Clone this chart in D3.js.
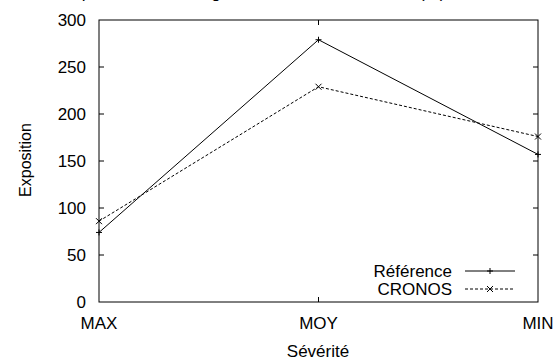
<!DOCTYPE html>
<html>
<head>
<meta charset="utf-8">
<script src="https://cdn.jsdelivr.net/npm/d3@7"></script>
<style>
  body { margin: 0; background: #fff; }
  text { font-family: "Liberation Sans", Arial, sans-serif; fill: #000; }
</style>
</head>
<body>
<svg width="556" height="360"></svg>
<script>
var categories = ["MAX", "MOY", "MIN"];
var reference = [74, 279, 157];
var cronos = [86, 229, 176];
var yTicks = [0, 50, 100, 150, 200, 250, 300];

var svg = d3.select("svg");
var plotLeft = 99, plotRight = 538, plotTop = 20, plotBottom = 302;

var x = d3.scalePoint().domain(categories).range([plotLeft, plotRight]);
var y = d3.scaleLinear().domain([0, 300]).range([plotBottom, plotTop]);

// title, mostly outside the picture
svg.append("text")
    .attr("x", 60).attr("y", -2)
    .style("font-size", "17px")
    .text("Répartition des catégories de sévérité cumulée (%)");

// frame
svg.append("rect")
    .attr("x", plotLeft).attr("y", plotTop)
    .attr("width", plotRight - plotLeft).attr("height", plotBottom - plotTop)
    .attr("fill", "none").attr("stroke", "#000").attr("stroke-width", 1);

var tk = 5;
yTicks.forEach(function (t) {
    if (t === 0 || t === 300) return;
    svg.append("line").attr("x1", plotLeft).attr("x2", plotLeft + tk)
        .attr("y1", y(t)).attr("y2", y(t)).attr("stroke", "#000");
    svg.append("line").attr("x1", plotRight).attr("x2", plotRight - tk)
        .attr("y1", y(t)).attr("y2", y(t)).attr("stroke", "#000");
});
yTicks.forEach(function (t) {
    svg.append("text")
        .attr("x", 86).attr("y", y(t) + 6)
        .attr("text-anchor", "end")
        .style("font-size", "17px")
        .text(t);
});

categories.forEach(function (c, i) {
    if (i > 0 && i < categories.length - 1) {
        svg.append("line").attr("x1", x(c)).attr("x2", x(c))
            .attr("y1", plotBottom).attr("y2", plotBottom - tk).attr("stroke", "#000");
        svg.append("line").attr("x1", x(c)).attr("x2", x(c))
            .attr("y1", plotTop).attr("y2", plotTop + tk).attr("stroke", "#000");
    }
    svg.append("text")
        .attr("x", x(c)).attr("y", 329)
        .attr("text-anchor", "middle")
        .style("font-size", "17px")
        .text(c);
});

svg.append("text")
    .attr("x", 318).attr("y", 357)
    .attr("text-anchor", "middle")
    .style("font-size", "17px")
    .text("Sévérité");

svg.append("text")
    .attr("transform", "translate(31,160) rotate(-90)")
    .attr("text-anchor", "middle")
    .style("font-size", "16px")
    .text("Exposition");

var line = d3.line()
    .x(function (d, i) { return x(categories[i]); })
    .y(function (d) { return y(d); });

function plus(g, cx, cy) {
    g.append("path")
        .attr("d", "M" + (cx - 3) + "," + cy + "H" + (cx + 3) + "M" + cx + "," + (cy - 3) + "V" + (cy + 3))
        .attr("stroke", "#000").attr("fill", "none");
}
function cross(g, cx, cy) {
    g.append("path")
        .attr("d", "M" + (cx - 3) + "," + (cy - 3) + "L" + (cx + 3) + "," + (cy + 3) +
                   "M" + (cx - 3) + "," + (cy + 3) + "L" + (cx + 3) + "," + (cy - 3))
        .attr("stroke", "#000").attr("fill", "none");
}

svg.append("path").datum(reference)
    .attr("d", line).attr("fill", "none")
    .attr("stroke", "#000").attr("stroke-width", 1);
svg.append("path").datum(cronos)
    .attr("d", line).attr("fill", "none")
    .attr("stroke", "#000").attr("stroke-width", 1)
    .attr("stroke-dasharray", "3,2");

reference.forEach(function (d, i) { plus(svg, x(categories[i]), y(d)); });
cronos.forEach(function (d, i) { cross(svg, x(categories[i]), y(d)); });

// legend
var legend = [
    { name: "Référence", dash: null, mark: plus, y: 271 },
    { name: "CRONOS", dash: "3,2", mark: cross, y: 289 }
];
legend.forEach(function (l) {
    svg.append("text")
        .attr("x", 452).attr("y", l.y + 6)
        .attr("text-anchor", "end")
        .style("font-size", "17px")
        .text(l.name);
    svg.append("line")
        .attr("x1", 465).attr("x2", 515)
        .attr("y1", l.y).attr("y2", l.y)
        .attr("stroke", "#000")
        .attr("stroke-dasharray", l.dash);
    l.mark(svg, 490, l.y);
});
</script>
</body>
</html>
